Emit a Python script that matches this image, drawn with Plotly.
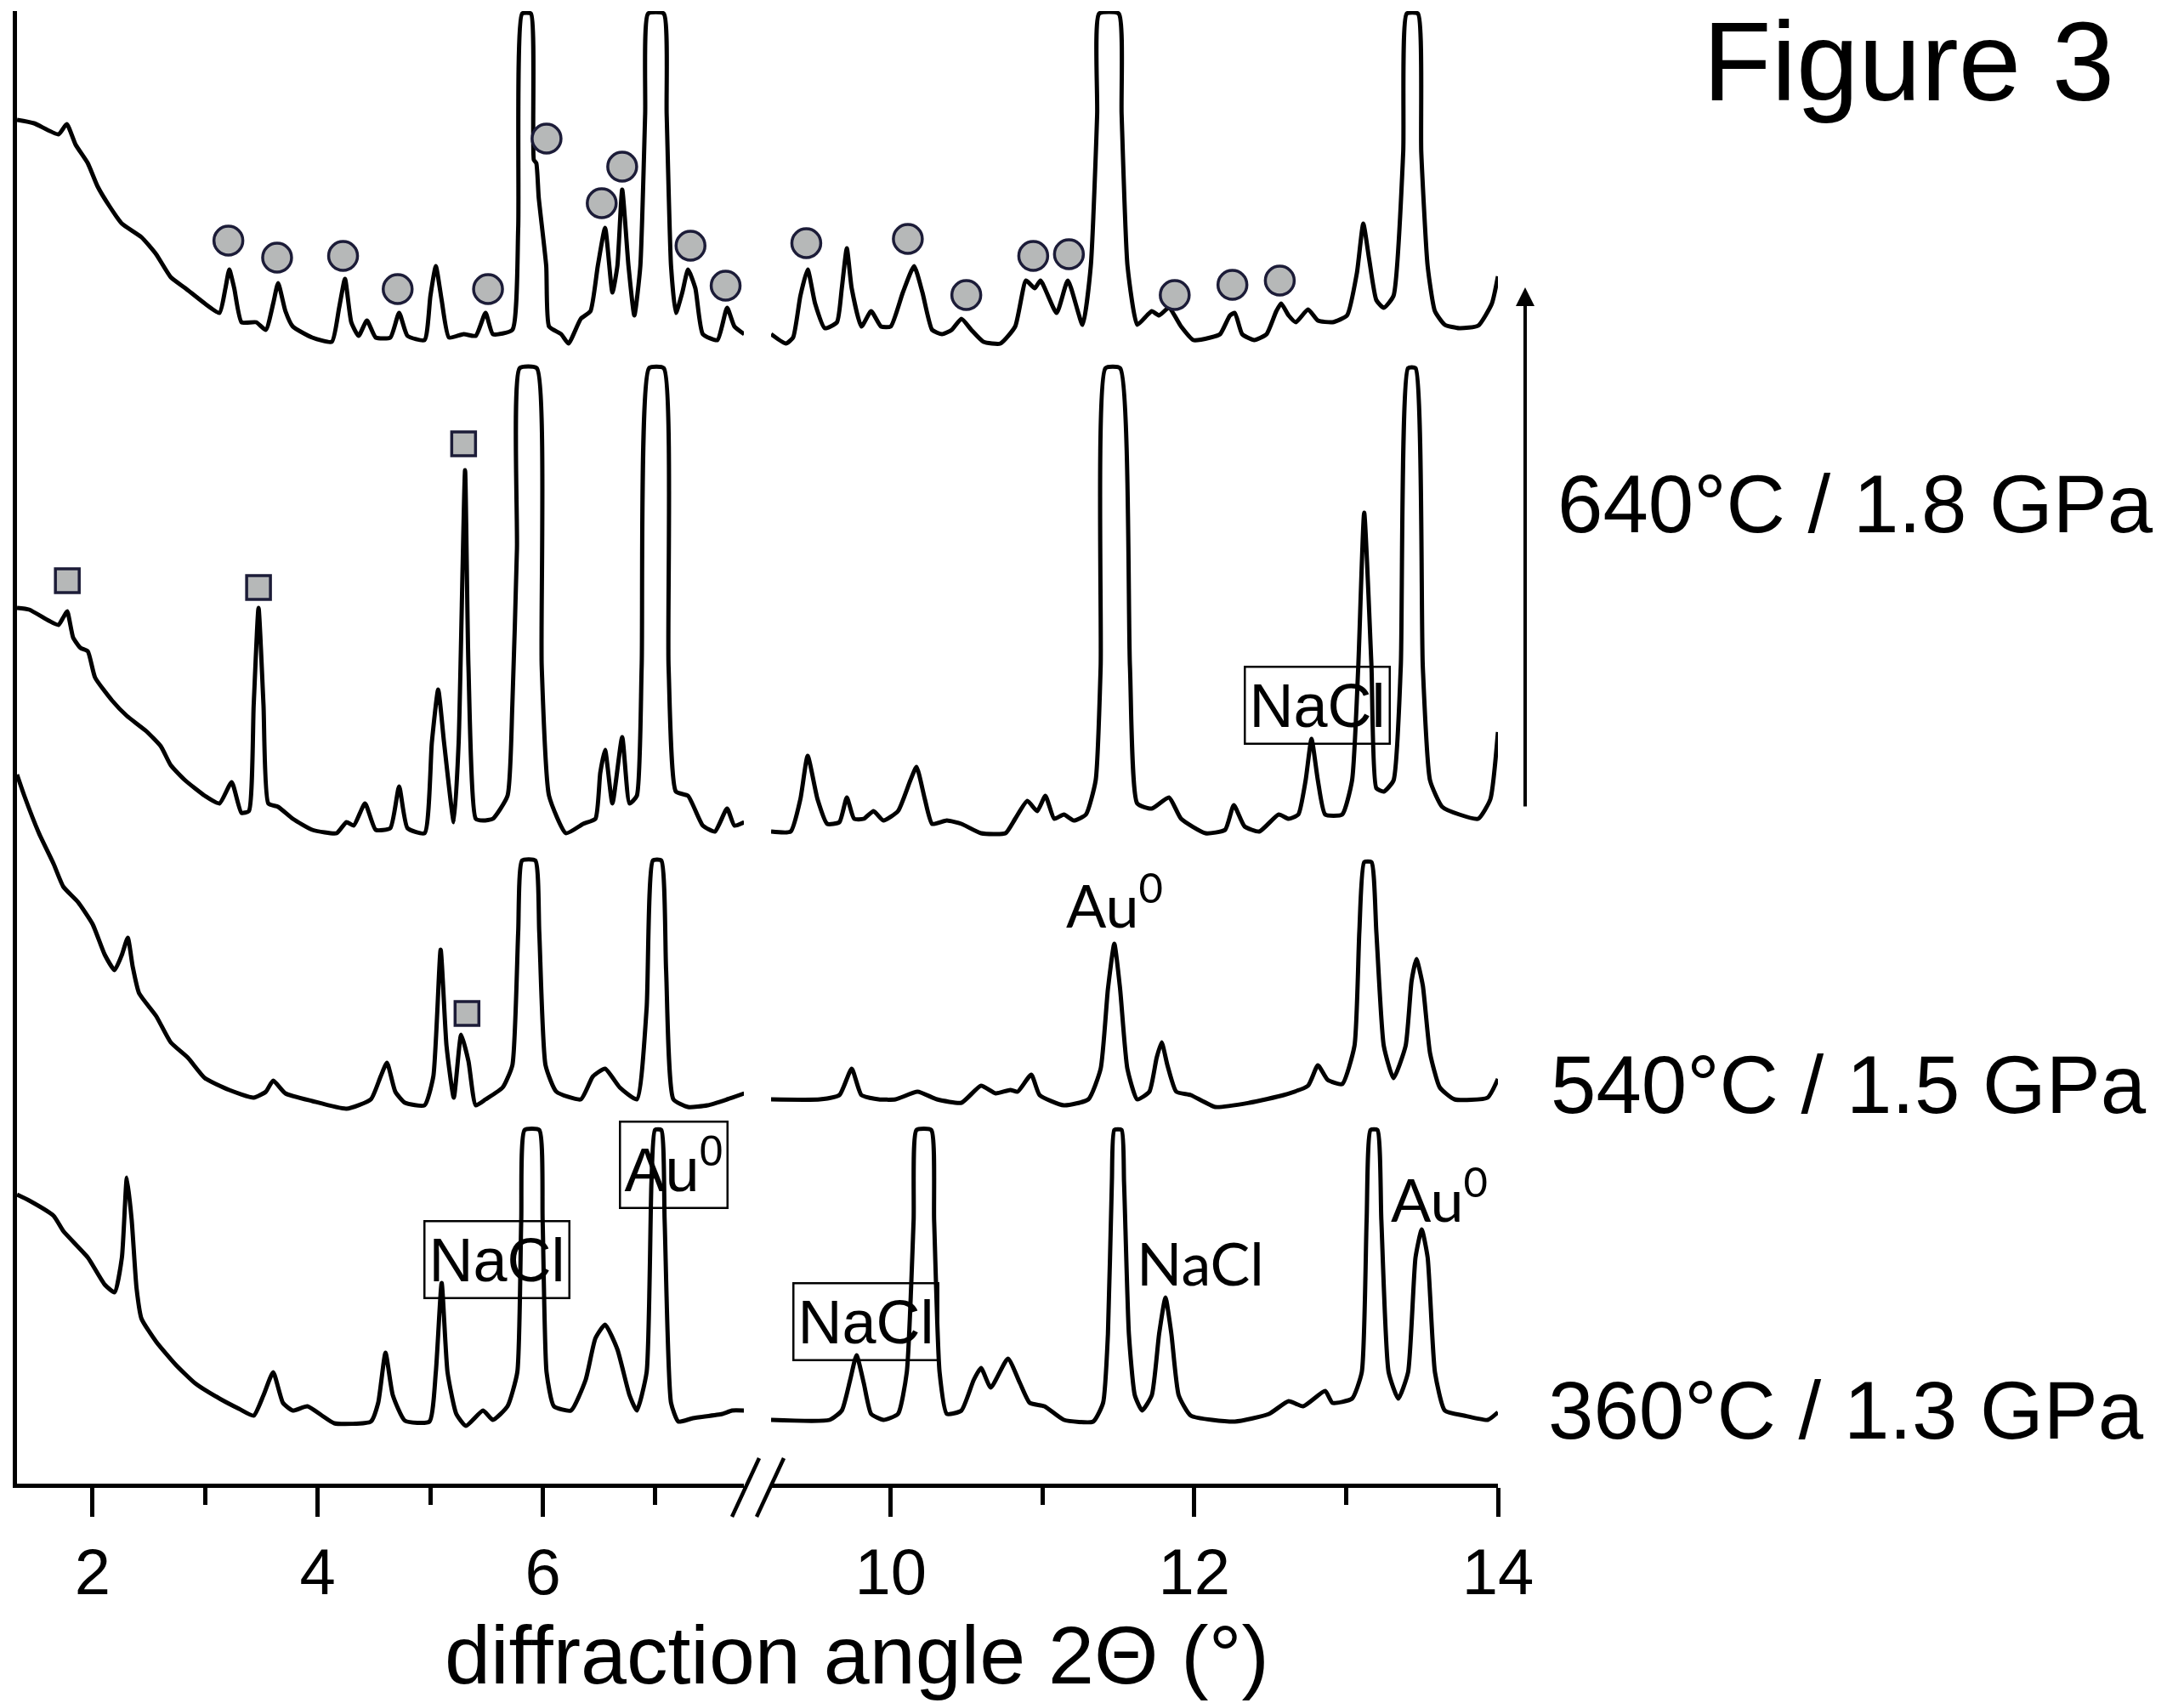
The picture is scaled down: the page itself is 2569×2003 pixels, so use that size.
import plotly.graph_objects as go

W, H = 2569, 2003

# ---------------- data ----------------
# 2-theta (deg) and stacked intensity (arb. units) of each pattern
two_theta_360 = [1.328, 1.436, 1.653, 1.740, 1.957, 2.108, 2.195, 2.26, 2.304, 2.347, 2.39, 2.434, 2.564, 2.737, 2.911,
                 3.128, 3.301, 3.431, 3.518, 3.604, 3.691, 3.778, 3.908, 4.038, 4.147, 4.472, 4.537, 4.602, 4.667, 4.775,
                 4.992, 5.049, 5.101, 5.153, 5.231, 5.317, 5.469, 5.556, 5.686, 5.773, 5.808, 5.838, 5.968, 5.998, 6.033,
                 6.098, 6.25, 6.38, 6.467, 6.553, 6.662, 6.77, 6.835, 6.922, 6.965, 6.996, 7.052, 7.082, 7.139, 7.204,
                 7.334, 7.594, 7.681, 7.789,
                 9.212, 9.598, 9.678, 9.733, 9.775, 9.823, 9.871, 9.952, 10.048, 10.106, 10.151, 10.170, 10.267, 10.286,
                 10.322, 10.37, 10.466, 10.547, 10.595, 10.659, 10.772, 10.852, 10.916, 11.013, 11.141, 11.334, 11.399,
                 11.431, 11.457, 11.473, 11.521, 11.537, 11.569, 11.608, 11.656, 11.72, 11.768, 11.81, 11.849, 11.897,
                 11.977, 12.267, 12.492, 12.621, 12.717, 12.862, 12.91, 13.039, 13.103, 13.135, 13.161, 13.206, 13.232,
                 13.280, 13.344, 13.408, 13.457, 13.498, 13.537, 13.585, 13.650, 13.778, 13.933, 14.0]
intensity_360 = [340, 333, 315, 297, 266, 234, 225, 266, 360, 310, 230, 194, 167, 140, 118,
                 100, 88, 80, 104, 131, 95, 86, 91, 80, 71, 73, 95, 154, 104, 74,
                 73, 131, 236, 131, 82, 68, 86, 75, 91, 131, 310, 416, 416, 310, 131,
                 91, 86, 122, 171, 187, 158, 104, 86, 131, 355, 416, 416, 310, 95, 73,
                 77, 82, 86, 86,
                 75, 75, 86, 122, 151, 118, 82, 75, 82, 131, 310, 416, 416, 310,
                 131, 82, 86, 122, 136, 113, 147, 118, 95, 91, 75, 73, 95,
                 176, 355, 416, 416, 355, 176, 104, 86, 104, 176, 219, 176, 104,
                 80, 73, 82, 97, 91, 109, 95, 100, 131, 310, 416, 416, 310,
                 131, 100, 131, 266, 299, 266, 131, 86, 80, 75, 84]

two_theta_540 = [1.328, 1.393, 1.523, 1.653, 1.74, 1.87, 2.0, 2.108, 2.195, 2.26, 2.312, 2.356, 2.412, 2.564, 2.694,
                 2.846, 2.997, 3.214, 3.431, 3.539, 3.604, 3.713, 3.951, 4.255, 4.472, 4.559, 4.615, 4.689, 4.775, 4.949,
                 5.027, 5.092, 5.144, 5.209, 5.274, 5.339, 5.404, 5.491, 5.643, 5.729, 5.781, 5.816, 5.933, 5.968, 6.024,
                 6.12, 6.337, 6.445, 6.553, 6.683, 6.835, 6.922, 6.978, 7.052, 7.095, 7.16, 7.29, 7.464, 7.637, 7.789,
                 9.212, 9.534, 9.662, 9.743, 9.807, 9.920, 10.032, 10.177, 10.305, 10.466, 10.595, 10.691, 10.788,
                 10.836, 10.926, 10.981, 11.141, 11.302, 11.383, 11.431, 11.473, 11.511, 11.559, 11.624, 11.704, 11.752,
                 11.785, 11.823, 11.881, 11.977, 12.138, 12.363, 12.588, 12.749, 12.814, 12.878, 12.974, 13.055, 13.087,
                 13.119, 13.167, 13.199, 13.248, 13.312, 13.392, 13.431, 13.463, 13.505, 13.553, 13.617, 13.714, 13.932,
                 14.0]
intensity_540 = [834, 809, 765, 729, 702, 684, 658, 622, 604, 622, 642, 608, 577, 550, 519,
                 501, 477, 463, 454, 461, 474, 459, 450, 441, 452, 479, 495, 461, 448, 445,
                 479, 628, 515, 454, 528, 497, 445, 452, 466, 492, 649, 733, 733, 649, 492,
                 461, 452, 479, 488, 466, 452, 559, 733, 733, 604, 452, 443, 445, 452, 459,
                 452, 452, 457, 488, 457, 452, 452, 461, 452, 448, 468, 459, 463,
                 461, 481, 457, 445, 452, 488, 582, 635, 582, 488, 452, 461, 501,
                 519, 492, 461, 457, 443, 448, 457, 468, 492, 475, 470, 515, 649,
                 731, 731, 649, 515, 477, 515, 591, 617, 586, 506, 466, 452, 454,
                 476]

two_theta_640a = [1.328, 1.436, 1.61, 1.696, 1.74, 1.774, 1.827, 1.892, 1.957, 2.022, 2.173, 2.304, 2.477, 2.607,
                  2.694, 2.824, 2.997, 3.127, 3.235, 3.322, 3.388, 3.431, 3.474, 3.518, 3.561, 3.648, 3.778, 3.951,
                  4.168, 4.255, 4.32, 4.42, 4.515, 4.645, 4.723, 4.797, 4.949, 5.014, 5.07, 5.122, 5.209, 5.252, 5.309,
                  5.339, 5.404, 5.469, 5.556, 5.686, 5.729, 5.77, 5.794, 5.946, 5.99, 6.055, 6.206, 6.358, 6.467, 6.51,
                  6.553, 6.618, 6.705, 6.77, 6.835, 6.878, 6.944, 7.074, 7.117, 7.182, 7.29, 7.421, 7.529, 7.637, 7.702,
                  7.789,
                  9.212, 9.341, 9.405, 9.453, 9.518, 9.582, 9.662, 9.711, 9.759, 9.823, 9.887, 9.952, 10.048, 10.129,
                  10.170, 10.225, 10.273, 10.37, 10.466, 10.595, 10.756, 10.82, 10.9, 10.965, 11.019, 11.077, 11.141,
                  11.206, 11.286, 11.35, 11.383, 11.415, 11.511, 11.576, 11.624, 11.72, 11.833, 11.913, 12.074, 12.203,
                  12.26, 12.331, 12.428, 12.556, 12.621, 12.685, 12.733, 12.772, 12.814, 12.862, 12.974, 13.039, 13.08,
                  13.119, 13.167, 13.199, 13.248, 13.312, 13.360, 13.408, 13.457, 13.505, 13.553, 13.633, 13.746,
                  13.87, 13.95, 14.0]
intensity_640a = [1030, 1028, 1015, 1010, 1019, 1026, 995, 983, 979, 948, 921, 903, 885, 867,
                  845, 827, 809, 800, 825, 789, 791, 916, 1030, 916, 800, 796, 782, 769,
                  765, 778, 774, 800, 769, 771, 820, 771, 765, 872, 934, 872, 778, 872, 1192,
                  961, 782, 780, 782, 809, 916, 1100, 1312, 1312, 961, 809, 765, 776, 782, 836,
                  863, 800, 878, 800, 809, 961, 1312, 1312, 961, 814, 809, 774, 767, 794, 774,
                  778,
                  767, 767, 805, 856, 805, 776, 778, 807, 782, 782, 791, 780, 791, 827,
                  843, 805, 776, 780, 776, 765, 765, 782, 803, 791, 809, 782, 787,
                  780, 787, 827, 961, 1312, 1312, 961, 800, 794, 807, 782, 765, 769,
                  798, 773, 767, 787, 782, 787, 827, 876, 827, 787, 787, 827, 961,
                  1142, 961, 818, 814, 827, 961, 1312, 1312, 961, 827, 796, 787,
                  782, 805, 884]

two_theta_640b = [1.328, 1.48, 1.696, 1.77, 1.848, 1.957, 2.043, 2.152, 2.26, 2.434, 2.564, 2.694, 2.824, 2.997,
                  3.127, 3.18, 3.214, 3.258, 3.323, 3.453, 3.539, 3.604, 3.648, 3.713, 3.778, 3.951, 4.125, 4.19,
                  4.242, 4.298, 4.363, 4.437, 4.515, 4.645, 4.723, 4.797, 4.949, 5.001, 5.049, 5.101, 5.166, 5.296,
                  5.404, 5.491, 5.556, 5.729, 5.781, 5.816, 5.894, 5.92, 5.942, 5.963, 6.03, 6.055, 6.163, 6.228,
                  6.337, 6.423, 6.488, 6.553, 6.618, 6.662, 6.705, 6.761, 6.813, 6.866, 6.909, 6.935, 7.074, 7.1,
                  7.139, 7.182, 7.239, 7.29, 7.355, 7.421, 7.551, 7.637, 7.702, 7.789,
                  9.212, 9.309, 9.357, 9.405, 9.453, 9.502, 9.566, 9.646, 9.678, 9.711, 9.743, 9.807, 9.871, 9.936,
                  10.0, 10.08, 10.154, 10.209, 10.273, 10.338, 10.402, 10.466, 10.531, 10.611, 10.723, 10.82, 10.891,
                  10.949, 10.987, 11.093, 11.167, 11.264, 11.318, 11.36, 11.373, 11.502, 11.521, 11.56, 11.624,
                  11.688, 11.72, 11.768, 11.833, 11.913, 11.994, 12.106, 12.17, 12.235, 12.267, 12.315, 12.395,
                  12.476, 12.54, 12.572, 12.621, 12.669, 12.749, 12.814, 12.91, 13.006, 13.071, 13.113, 13.151,
                  13.199, 13.248, 13.312, 13.376, 13.399, 13.473, 13.495, 13.537, 13.585, 13.65, 13.746, 13.87,
                  13.96, 14.0]
intensity_640b = [1604, 1600, 1587, 1599, 1575, 1553, 1526, 1502, 1482, 1466, 1446, 1419, 1406, 1388,
                  1377, 1406, 1428, 1406, 1366, 1366, 1357, 1388, 1412, 1379, 1361, 1348, 1343, 1383,
                  1417, 1366, 1350, 1368, 1348, 1348, 1377, 1350, 1345, 1397, 1432, 1392, 1348, 1352,
                  1350, 1377, 1352, 1357, 1477, 1729, 1729, 1557, 1553, 1513, 1432, 1361, 1352, 1341,
                  1370, 1379, 1432, 1477, 1401, 1432, 1522, 1432, 1374, 1432, 1611, 1729, 1729, 1611,
                  1432, 1377, 1401, 1428, 1406, 1352, 1345, 1383, 1361, 1352,
                  1352, 1341, 1348, 1397, 1428, 1388, 1359, 1366, 1406, 1453, 1406, 1361, 1379, 1361,
                  1361, 1401, 1432, 1401, 1357, 1352, 1357, 1370, 1357, 1343, 1341, 1361, 1415,
                  1406, 1415, 1377, 1415, 1363, 1432, 1611, 1729, 1729, 1611, 1432, 1363,
                  1374, 1379, 1374, 1383, 1361, 1345, 1348, 1352, 1374, 1377, 1352, 1345,
                  1352, 1379, 1388, 1374, 1366, 1381, 1368, 1366, 1374, 1424, 1482, 1441,
                  1392, 1383, 1397, 1566, 1729, 1729, 1566, 1432, 1379, 1363, 1359, 1362,
                  1388, 1420]

# phase markers (peak positions and marker heights)
circle_theta = [3.206, 3.639, 4.225, 4.71, 5.513, 6.033, 6.523, 6.705, 7.312, 7.624,
                9.444, 10.113, 10.498, 10.939, 11.174, 11.871, 12.251, 12.563]
circle_height = [1462, 1442, 1444, 1405, 1405, 1582, 1506, 1549, 1456, 1409,
                 1459, 1464, 1398, 1444, 1446, 1398, 1410, 1415]
square_theta = [1.775, 3.474, 5.296, 5.326]
square_height = [1062, 1054, 1223, 553]

left_ticks = [2, 4, 6]
left_minor = [3, 5, 7]
right_ticks = [10, 12, 14]
right_minor = [11, 13]

# ---------------- figure ----------------
FONT = "Liberation Sans, Arial, sans-serif"
LW = 4.5       # axis lines
TW = 5         # pattern lines


def px(X):
    return X / W


def py(Y):
    return 1 - Y / H


fig = go.Figure()

for xs, ys in [(two_theta_360, intensity_360), (two_theta_540, intensity_540),
               (two_theta_640a, intensity_640a), (two_theta_640b, intensity_640b)]:
    assert len(xs) == len(ys), (len(xs), len(ys))
    for cond, xa in [(lambda v: v < 8, 'x'), (lambda v: v > 9, 'x2')]:
        sx = [x for x in xs if cond(x)]
        sy = [y for x, y in zip(xs, ys) if cond(x)]
        fig.add_trace(go.Scatter(x=sx, y=sy, mode='lines', xaxis=xa, yaxis='y',
                                 line=dict(color='black', width=TW, shape='spline', smoothing=0.5),
                                 showlegend=False, hoverinfo='skip'))

for xs, ys, sym, size in [(circle_theta, circle_height, 'circle', 34),
                          (square_theta, square_height, 'square', 28)]:
    for cond, xa in [(lambda v: v < 8, 'x'), (lambda v: v > 9, 'x2')]:
        sx = [x for x in xs if cond(x)]
        sy = [y for x, y in zip(xs, ys) if cond(x)]
        if not sx:
            continue
        fig.add_trace(go.Scatter(x=sx, y=sy, mode='markers', xaxis=xa, yaxis='y',
                                 marker=dict(symbol=sym, size=size, color='#b6b8b8',
                                             line=dict(color='#1c1c38', width=3.5)),
                                 showlegend=False, hoverinfo='skip'))

axis_common = dict(showline=True, linecolor='black', linewidth=LW, ticks='outside', ticklen=34,
                   tickwidth=LW, tickcolor='black', showgrid=False, zeroline=False, automargin=False,
                   tickfont=dict(family=FONT, size=76, color='black'), anchor='y')

fig.update_layout(
    width=W, height=H, autosize=False, showlegend=False,
    margin=dict(l=0, r=0, t=0, b=0, pad=0, autoexpand=False),
    paper_bgcolor='white', plot_bgcolor='white',
    xaxis=dict(domain=[px(20), px(875)], range=[1.328, 7.786], tickvals=left_ticks,
               ticktext=[str(v) for v in left_ticks],
               minor=dict(tickvals=left_minor, ticklen=20, tickwidth=LW, tickcolor='black',
                          ticks='outside', showgrid=False),
               **axis_common),
    xaxis2=dict(domain=[px(907), px(1762)], range=[9.212, 14.0], tickvals=right_ticks,
                ticktext=[str(v) for v in right_ticks],
                minor=dict(tickvals=right_minor, ticklen=20, tickwidth=LW, tickcolor='black',
                           ticks='outside', showgrid=False),
                **axis_common),
    yaxis=dict(domain=[py(1745), py(13)], range=[0, 1732], showline=True, linecolor='black',
               linewidth=LW, ticks='', showticklabels=False, showgrid=False, zeroline=False,
               automargin=False, anchor='x'),
)

# axis break marks
for x0 in (861, 890):
    fig.add_shape(type='line', xref='paper', yref='paper', x0=px(x0), y0=py(1784),
                  x1=px(x0 + 32), y1=py(1715), line=dict(color='black', width=LW))

ann = []
# axis title
ann.append(dict(text='diffraction angle 2\u0398 (\u00b0)', xref='paper', yref='paper',
                x=px(1008), y=py(1946), xanchor='center', yanchor='middle', showarrow=False,
                font=dict(family=FONT, size=97, color='black')))
# figure title
ann.append(dict(text='Figure 3', xref='paper', yref='paper', x=px(2245), y=py(72),
                xanchor='center', yanchor='middle', showarrow=False,
                font=dict(family=FONT, size=132, color='black')))
# condition labels
for txt, X, Y in [('640\u00b0C / 1.8 GPa', 1830, 592),
                  ('540\u00b0C / 1.5 GPa', 1822, 1275),
                  ('360\u00b0C / 1.3 GPa', 1819, 1658)]:
    ann.append(dict(text=txt, xref='paper', yref='paper', x=px(X), y=py(Y), xanchor='left',
                    yanchor='middle', showarrow=False, font=dict(family=FONT, size=96, color='black')))
# time arrow
ann.append(dict(text='', xref='paper', yref='paper', x=px(1794), y=py(338), ax=0, ay=612,
                showarrow=True, arrowhead=2, arrowsize=1.1, arrowwidth=4, arrowcolor='black'))

# boxed phase labels
for txt, xa, xv, yv in [('NaCl', 'x2', 12.81, 915), ('NaCl', 'x', 5.588, 264),
                        ('Au<sup>0</sup>', 'x', 7.166, 375), ('NaCl', 'x2', 9.838, 191)]:
    ann.append(dict(text=txt, xref=xa, yref='y', x=xv, y=yv, xanchor='center', yanchor='middle',
                    showarrow=False, bordercolor='black', borderwidth=2.5, borderpad=4,
                    font=dict(family=FONT, size=72, color='black')))
# plain phase labels
for txt, xa, xv, yv in [('NaCl', 'x2', 12.04, 260), ('Au<sup>0</sup>', 'x2', 13.613, 339),
                        ('Au<sup>0</sup>', 'x2', 11.473, 685)]:
    ann.append(dict(text=txt, xref=xa, yref='y', x=xv, y=yv, xanchor='center', yanchor='middle',
                    showarrow=False, font=dict(family='Lato, Open Sans, sans-serif', size=70, color='black')))

fig.update_layout(annotations=ann)

PAGE_FIX = ("var de=document.documentElement,b=document.body;"
            "de.style.margin='0';b.style.margin='0';b.style.padding='0';"
            "de.style.overflow='hidden';b.style.overflow='hidden';")

fig.write_html('out.html', config={'displayModeBar': False}, post_script=PAGE_FIX)
